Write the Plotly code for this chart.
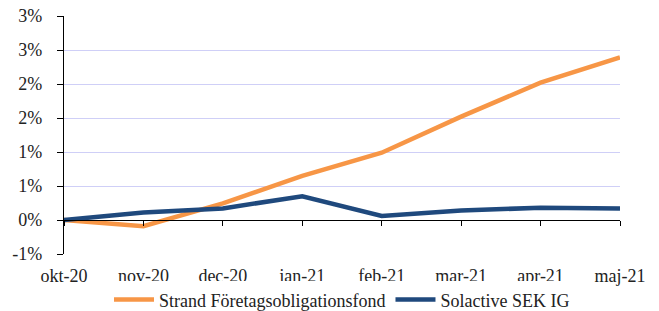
import plotly.graph_objects as go

months = ["okt-20", "nov-20", "dec-20", "jan-21", "feb-21", "mar-21", "apr-21", "maj-21"]
strand = [0.0, -0.09, 0.245, 0.65, 0.99, 1.52, 2.02, 2.39]
solactive = [0.0, 0.11, 0.17, 0.35, 0.06, 0.14, 0.18, 0.17]
tick_vals = [-0.5, 0.0, 0.5, 1.0, 1.5, 2.0, 2.5, 3.0]
tick_text = ["-1%", "0%", "1%", "1%", "2%", "2%", "3%", "3%"]

ORANGE = "#F79646"
BLUE = "#1F497D"
FONT = "Liberation Serif"

xs = list(range(len(months)))
fig = go.Figure()
fig.add_trace(go.Scatter(x=xs, y=strand, mode="lines", name="Strand Företagsobligationsfond",
                         line=dict(color=ORANGE, width=4.5)))
fig.add_trace(go.Scatter(x=xs, y=solactive, mode="lines", name="Solactive SEK IG",
                         line=dict(color=BLUE, width=4.5)))
# invisible trace to drive the zero-crossing x axis
fig.add_trace(go.Scatter(x=xs, y=[0] * len(xs), xaxis="x2", mode="lines",
                         line=dict(width=0), showlegend=False, hoverinfo="skip"))

yr = [-0.5, 3.0]
fig.update_layout(
    width=659, height=311,
    margin=dict(l=64, r=39, t=16, b=57, autoexpand=False),
    paper_bgcolor="white", plot_bgcolor="white",
    font=dict(family=FONT, size=18, color="#222222"),
    showlegend=True,
    legend=dict(orientation="h", x=0.5, xanchor="center", y=-0.115, yanchor="top",
                bgcolor="white", font=dict(size=18, family=FONT, color="#222222"), itemwidth=40,
                tracegroupgap=0, itemclick=False),
    xaxis=dict(range=[0, len(months) - 1], tickmode="array", tickvals=xs, ticktext=months,
               showgrid=False, showline=False, ticks="", zeroline=False,
               ticklabelstandoff=9, tickfont=dict(size=18, family=FONT)),
    xaxis2=dict(range=[0, len(months) - 1], overlaying="x", anchor="free",
                position=(0 - yr[0]) / (yr[1] - yr[0]), side="bottom",
                tickmode="array", tickvals=xs, showticklabels=False,
                showline=True, linecolor="black", linewidth=1.3,
                ticks="outside", ticklen=5, tickcolor="black", tickwidth=1.3,
                showgrid=False, zeroline=False),
    yaxis=dict(range=yr, tickmode="array", tickvals=tick_vals, ticktext=tick_text,
               showgrid=True, gridcolor="#CFCFF7", gridwidth=1.2,
               showline=True, linecolor="black", linewidth=1.3,
               ticks="outside", ticklen=6, tickcolor="black", tickwidth=1.3,
               zeroline=False, ticklabelstandoff=11, tickfont=dict(size=18, family=FONT)),
)
fig.write_html("out.html", post_script="document.body.style.margin='0';",
               config={"displayModeBar": False})
